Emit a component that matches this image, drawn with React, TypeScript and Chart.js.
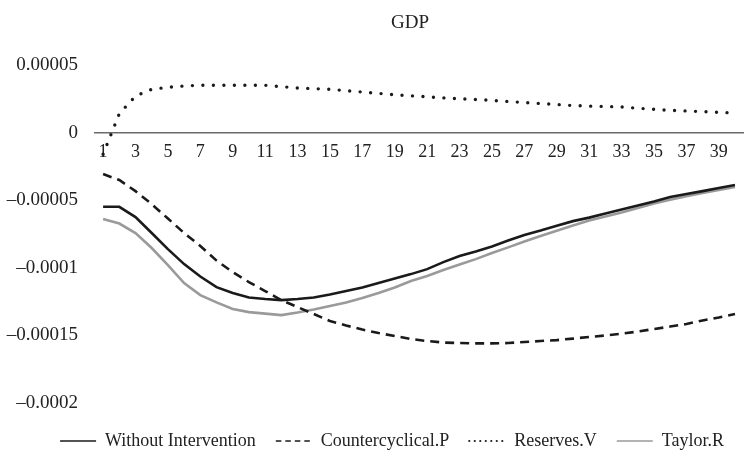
import React, { useEffect, useRef } from "react";
import { Chart, registerables } from "chart.js";

Chart.register(...registerables);

const categories: string[] = Array.from({ length: 40 }, (_, i) => String(i + 1));

const chartTitle = "GDP";

const withoutIntervention: number[] = [
  -5.49e-5, -5.49e-5, -6.25e-5, -7.43e-5, -8.62e-5, -9.73e-5, -1.065e-4, -1.143e-4, -1.187e-4, -1.22e-4,
  -1.231e-4, -1.239e-4, -1.231e-4, -1.22e-4, -1.198e-4, -1.172e-4, -1.146e-4, -1.113e-4, -1.08e-4, -1.047e-4,
  -1.01e-4, -9.58e-5, -9.13e-5, -8.8e-5, -8.43e-5, -7.99e-5, -7.58e-5, -7.25e-5, -6.89e-5, -6.55e-5,
  -6.29e-5, -5.99e-5, -5.69e-5, -5.4e-5, -5.1e-5, -4.77e-5, -4.55e-5, -4.33e-5, -4.1e-5, -3.88e-5,
];

const countercyclicalP: number[] = [
  -3.07e-5, -3.51e-5, -4.33e-5, -5.29e-5, -6.36e-5, -7.43e-5, -8.39e-5, -9.47e-5, -1.032e-4, -1.106e-4,
  -1.172e-4, -1.239e-4, -1.291e-4, -1.342e-4, -1.394e-4, -1.427e-4, -1.457e-4, -1.483e-4, -1.505e-4, -1.527e-4,
  -1.542e-4, -1.553e-4, -1.557e-4, -1.559e-4, -1.559e-4, -1.557e-4, -1.549e-4, -1.542e-4, -1.535e-4, -1.524e-4,
  -1.512e-4, -1.501e-4, -1.487e-4, -1.472e-4, -1.453e-4, -1.435e-4, -1.416e-4, -1.39e-4, -1.368e-4, -1.342e-4,
];

const reservesV: number[] = [
  -1.6e-5, 1.4e-5, 2.7e-5, 3.2e-5, 3.35e-5, 3.45e-5, 3.5e-5, 3.5e-5, 3.5e-5, 3.5e-5,
  3.5e-5, 3.4e-5, 3.3e-5, 3.25e-5, 3.2e-5, 3.1e-5, 3.0e-5, 2.9e-5, 2.8e-5, 2.72e-5,
  2.65e-5, 2.57e-5, 2.5e-5, 2.45e-5, 2.38e-5, 2.3e-5, 2.22e-5, 2.15e-5, 2.08e-5, 2.0e-5,
  1.96e-5, 1.93e-5, 1.9e-5, 1.8e-5, 1.72e-5, 1.65e-5, 1.6e-5, 1.55e-5, 1.5e-5, 1.45e-5,
];

const taylorR: number[] = [
  -6.4e-5, -6.73e-5, -7.43e-5, -8.54e-5, -9.8e-5, -1.113e-4, -1.202e-4, -1.256e-4, -1.305e-4, -1.328e-4,
  -1.339e-4, -1.35e-4, -1.331e-4, -1.309e-4, -1.283e-4, -1.257e-4, -1.224e-4, -1.187e-4, -1.146e-4, -1.098e-4,
  -1.061e-4, -1.017e-4, -9.76e-5, -9.36e-5, -8.91e-5, -8.49e-5, -8.06e-5, -7.65e-5, -7.26e-5, -6.88e-5,
  -6.51e-5, -6.21e-5, -5.92e-5, -5.58e-5, -5.25e-5, -4.96e-5, -4.7e-5, -4.47e-5, -4.25e-5, -4.03e-5,
];

const seriesLabels = ["Without Intervention", "Countercyclical.P", "Reserves.V", "Taylor.R"];

const FONT = "'Liberation Serif', 'Times New Roman', serif";

const titlePlugin = {
  id: "customTitle",
  afterDraw(chart: any) {
    const ctx = chart.ctx;
    ctx.save();
    ctx.font = `19px ${FONT}`;
    ctx.fillStyle = "#222";
    ctx.textAlign = "center";
    ctx.textBaseline = "middle";
    ctx.fillText(chartTitle, 410, 23);
    ctx.restore();
  },
};

export default function App() {
  const ref = useRef<HTMLCanvasElement | null>(null);

  useEffect(() => {
    if (!ref.current) return;
    const legendDash: number[][] = [[], [5.5, 4], [0, 5.5], []];
    const legendWidth = [1.6, 1.6, 2.2, 1.6];
    const legendCap = ["butt", "butt", "round", "butt"];
    const chart = new Chart(ref.current, {
      type: "line",
      data: {
        labels: categories,
        datasets: [
          {
            label: seriesLabels[0],
            data: withoutIntervention,
            borderColor: "#1a1a1a",
            backgroundColor: "#1a1a1a",
            borderWidth: 2.6,
            pointRadius: 0,
            tension: 0,
          },
          {
            label: seriesLabels[1],
            data: countercyclicalP,
            borderColor: "#1a1a1a",
            backgroundColor: "#1a1a1a",
            borderWidth: 2.6,
            borderDash: [9, 6],
            pointRadius: 0,
            tension: 0,
          },
          {
            label: seriesLabels[2],
            data: reservesV,
            borderColor: "#1a1a1a",
            backgroundColor: "#1a1a1a",
            borderWidth: 3.4,
            borderDash: [0, 10.5],
            borderCapStyle: "round",
            pointRadius: 0,
            tension: 0,
          },
          {
            label: seriesLabels[3],
            data: taylorR,
            borderColor: "#9a9a9a",
            backgroundColor: "#9a9a9a",
            borderWidth: 2.6,
            pointRadius: 0,
            tension: 0,
          },
        ],
      },
      options: {
        animation: false,
        responsive: true,
        maintainAspectRatio: false,
        layout: { padding: { top: 65, left: 0, right: 0, bottom: 6 } },
        plugins: {
          title: { display: false },
          tooltip: { enabled: false },
          legend: {
            display: true,
            position: "bottom",
            align: "end",
            labels: {
              usePointStyle: true,
              pointStyleWidth: 36,
              padding: 20,
              color: "#222",
              font: { family: FONT, size: 18 },
              generateLabels: (c: any) =>
                c.data.datasets.map((ds: any, i: number) => ({
                  text: ds.label,
                  strokeStyle: ds.borderColor,
                  fillStyle: ds.borderColor,
                  lineWidth: legendWidth[i],
                  lineDash: legendDash[i],
                  lineCap: legendCap[i],
                  pointStyle: "line",
                  hidden: false,
                  datasetIndex: i,
                  fontColor: "#222",
                })),
            },
          },
        },
        scales: {
          x: {
            type: "category",
            position: { y: 0 },
            offset: true,
            grid: { display: false, drawTicks: false },
            border: { display: true, color: "#6a6a6a", width: 1.5 },
            ticks: {
              autoSkip: false,
              maxRotation: 0,
              padding: 9,
              color: "#222",
              font: { family: FONT, size: 18 },
              callback: (_v: any, idx: number) => (idx % 2 === 0 ? categories[idx] : ""),
            },
          },
          y: {
            type: "linear",
            min: -0.0002067,
            max: 0.00005,
            grid: { display: false, drawTicks: false },
            border: { display: false },
            afterFit: (s: any) => {
              s.width = 95;
            },
            ticks: {
              stepSize: 0.00005,
              includeBounds: false,
              padding: 17,
              color: "#222",
              font: { family: FONT, size: 19 },
              callback: (v: any) => {
                const r = Math.round(Number(v) * 1e6) / 1e6;
                return String(r).replace("-", "\u2013");
              },
            },
          },
        },
      },
      plugins: [titlePlugin],
    } as any);
    return () => chart.destroy();
  }, []);

  return (
    <div style={{ position: "fixed", left: 0, top: 0, width: 744, height: 466, background: "#fff" }}>
      <canvas ref={ref} />
    </div>
  );
}
